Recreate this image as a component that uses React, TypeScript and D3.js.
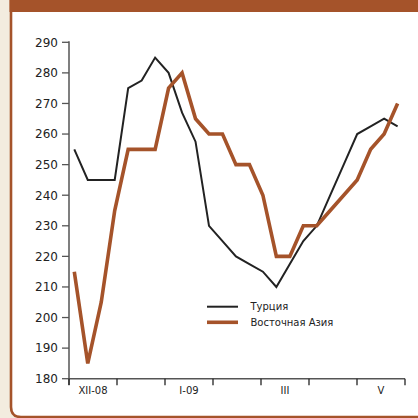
import React from 'react'
import * as d3 from 'd3'

const turkey = [
  255, 245, 245, 245, 275, 277.5, 285, 280, 267, 257.5, 230, 225, 220, 217.5,
  215, 210, 217.5, 225, 230, 240, 250, 260, 262.5, 265, 262.5,
]
const eastAsia = [
  215, 185, 205, 235, 255, 255, 255, 275, 280, 265, 260, 260, 250, 250, 240,
  220, 220, 230, 230, 235, 240, 245, 255, 260, 270,
]
const yTicks = [180, 190, 200, 210, 220, 230, 240, 250, 260, 270, 280, 290]
const monthLabels = ['XII-08', '', 'I-09', '', 'III', '', 'V']
const seriesNames = ['Турция', 'Восточная Азия']

const BROWN = '#a5532a'
const CREAM = '#f3ecdf'
const INK = '#222222'
const AXIS = '#555555'

export default function App() {
  const W = 418
  const H = 418
  const x = d3.scaleLinear().domain([0, turkey.length - 1]).range([74.3, 397.6])
  const y = d3.scaleLinear().domain([180, 290]).range([378.7, 42.3])
  const xm = d3.scaleLinear().domain([0, monthLabels.length]).range([69, 405])

  const line = d3
    .line<number>()
    .x((_, i) => x(i))
    .y((d) => y(d))

  const font = 'DejaVu Sans, sans-serif'

  return (
    <div style={{ position: 'fixed', left: 0, top: 0, width: W, height: H }}>
      <svg width={W} height={H} style={{ display: 'block' }}>
        <rect x={0} y={0} width={W} height={H} fill={CREAM} />
        {/* panel */}
        <path
          d={`M11,0 L${W + 5},0 L${W + 5},417 L21,417 Q11,417 11,407 Z`}
          fill="#ffffff"
          stroke={BROWN}
          strokeWidth={2.6}
        />
        <rect x={9.5} y={0} width={W} height={12} fill={BROWN} />

        {/* y axis */}
        <line x1={69} x2={69} y1={y(290) - 1} y2={385} stroke={AXIS} strokeWidth={1.5} />
        {yTicks.map((t) => (
          <g key={t}>
            <line x1={62} x2={69} y1={y(t)} y2={y(t)} stroke={AXIS} strokeWidth={1.3} />
            <text
              x={58}
              y={y(t)}
              dy="0.36em"
              textAnchor="end"
              fontFamily={font}
              fontSize={12}
              fill={INK}
            >
              {t}
            </text>
          </g>
        ))}

        {/* x axis */}
        <line x1={69} x2={405} y1={y(180)} y2={y(180)} stroke={AXIS} strokeWidth={1.5} />
        {d3.range(monthLabels.length + 1).map((k) => (
          <line
            key={k}
            x1={xm(k)}
            x2={xm(k)}
            y1={y(180)}
            y2={y(180) + 6.5}
            stroke={INK}
            strokeWidth={1.3}
          />
        ))}
        {monthLabels.map((m, k) => (
          <text
            key={k}
            x={xm(k + 0.5)}
            y={394}
            textAnchor="middle"
            fontFamily={font}
            fontSize={10}
            fill={INK}
          >
            {m}
          </text>
        ))}

        {/* series */}
        <path d={line(turkey) ?? ''} fill="none" stroke={INK} strokeWidth={2} strokeLinejoin="miter" />
        <path d={line(eastAsia) ?? ''} fill="none" stroke={BROWN} strokeWidth={3.6} strokeLinejoin="miter" />

        {/* legend */}
        {seriesNames.map((name, i) => (
          <g key={name} transform={`translate(207, ${306.7 + i * 15.6})`}>
            <line
              x1={0}
              x2={31}
              y1={0}
              y2={0}
              stroke={i === 0 ? INK : BROWN}
              strokeWidth={i === 0 ? 2 : 3.6}
            />
            <text x={43.5} y={0} dy="0.35em" fontFamily={font} fontSize={10} fill={INK}>
              {name}
            </text>
          </g>
        ))}
      </svg>
    </div>
  )
}
